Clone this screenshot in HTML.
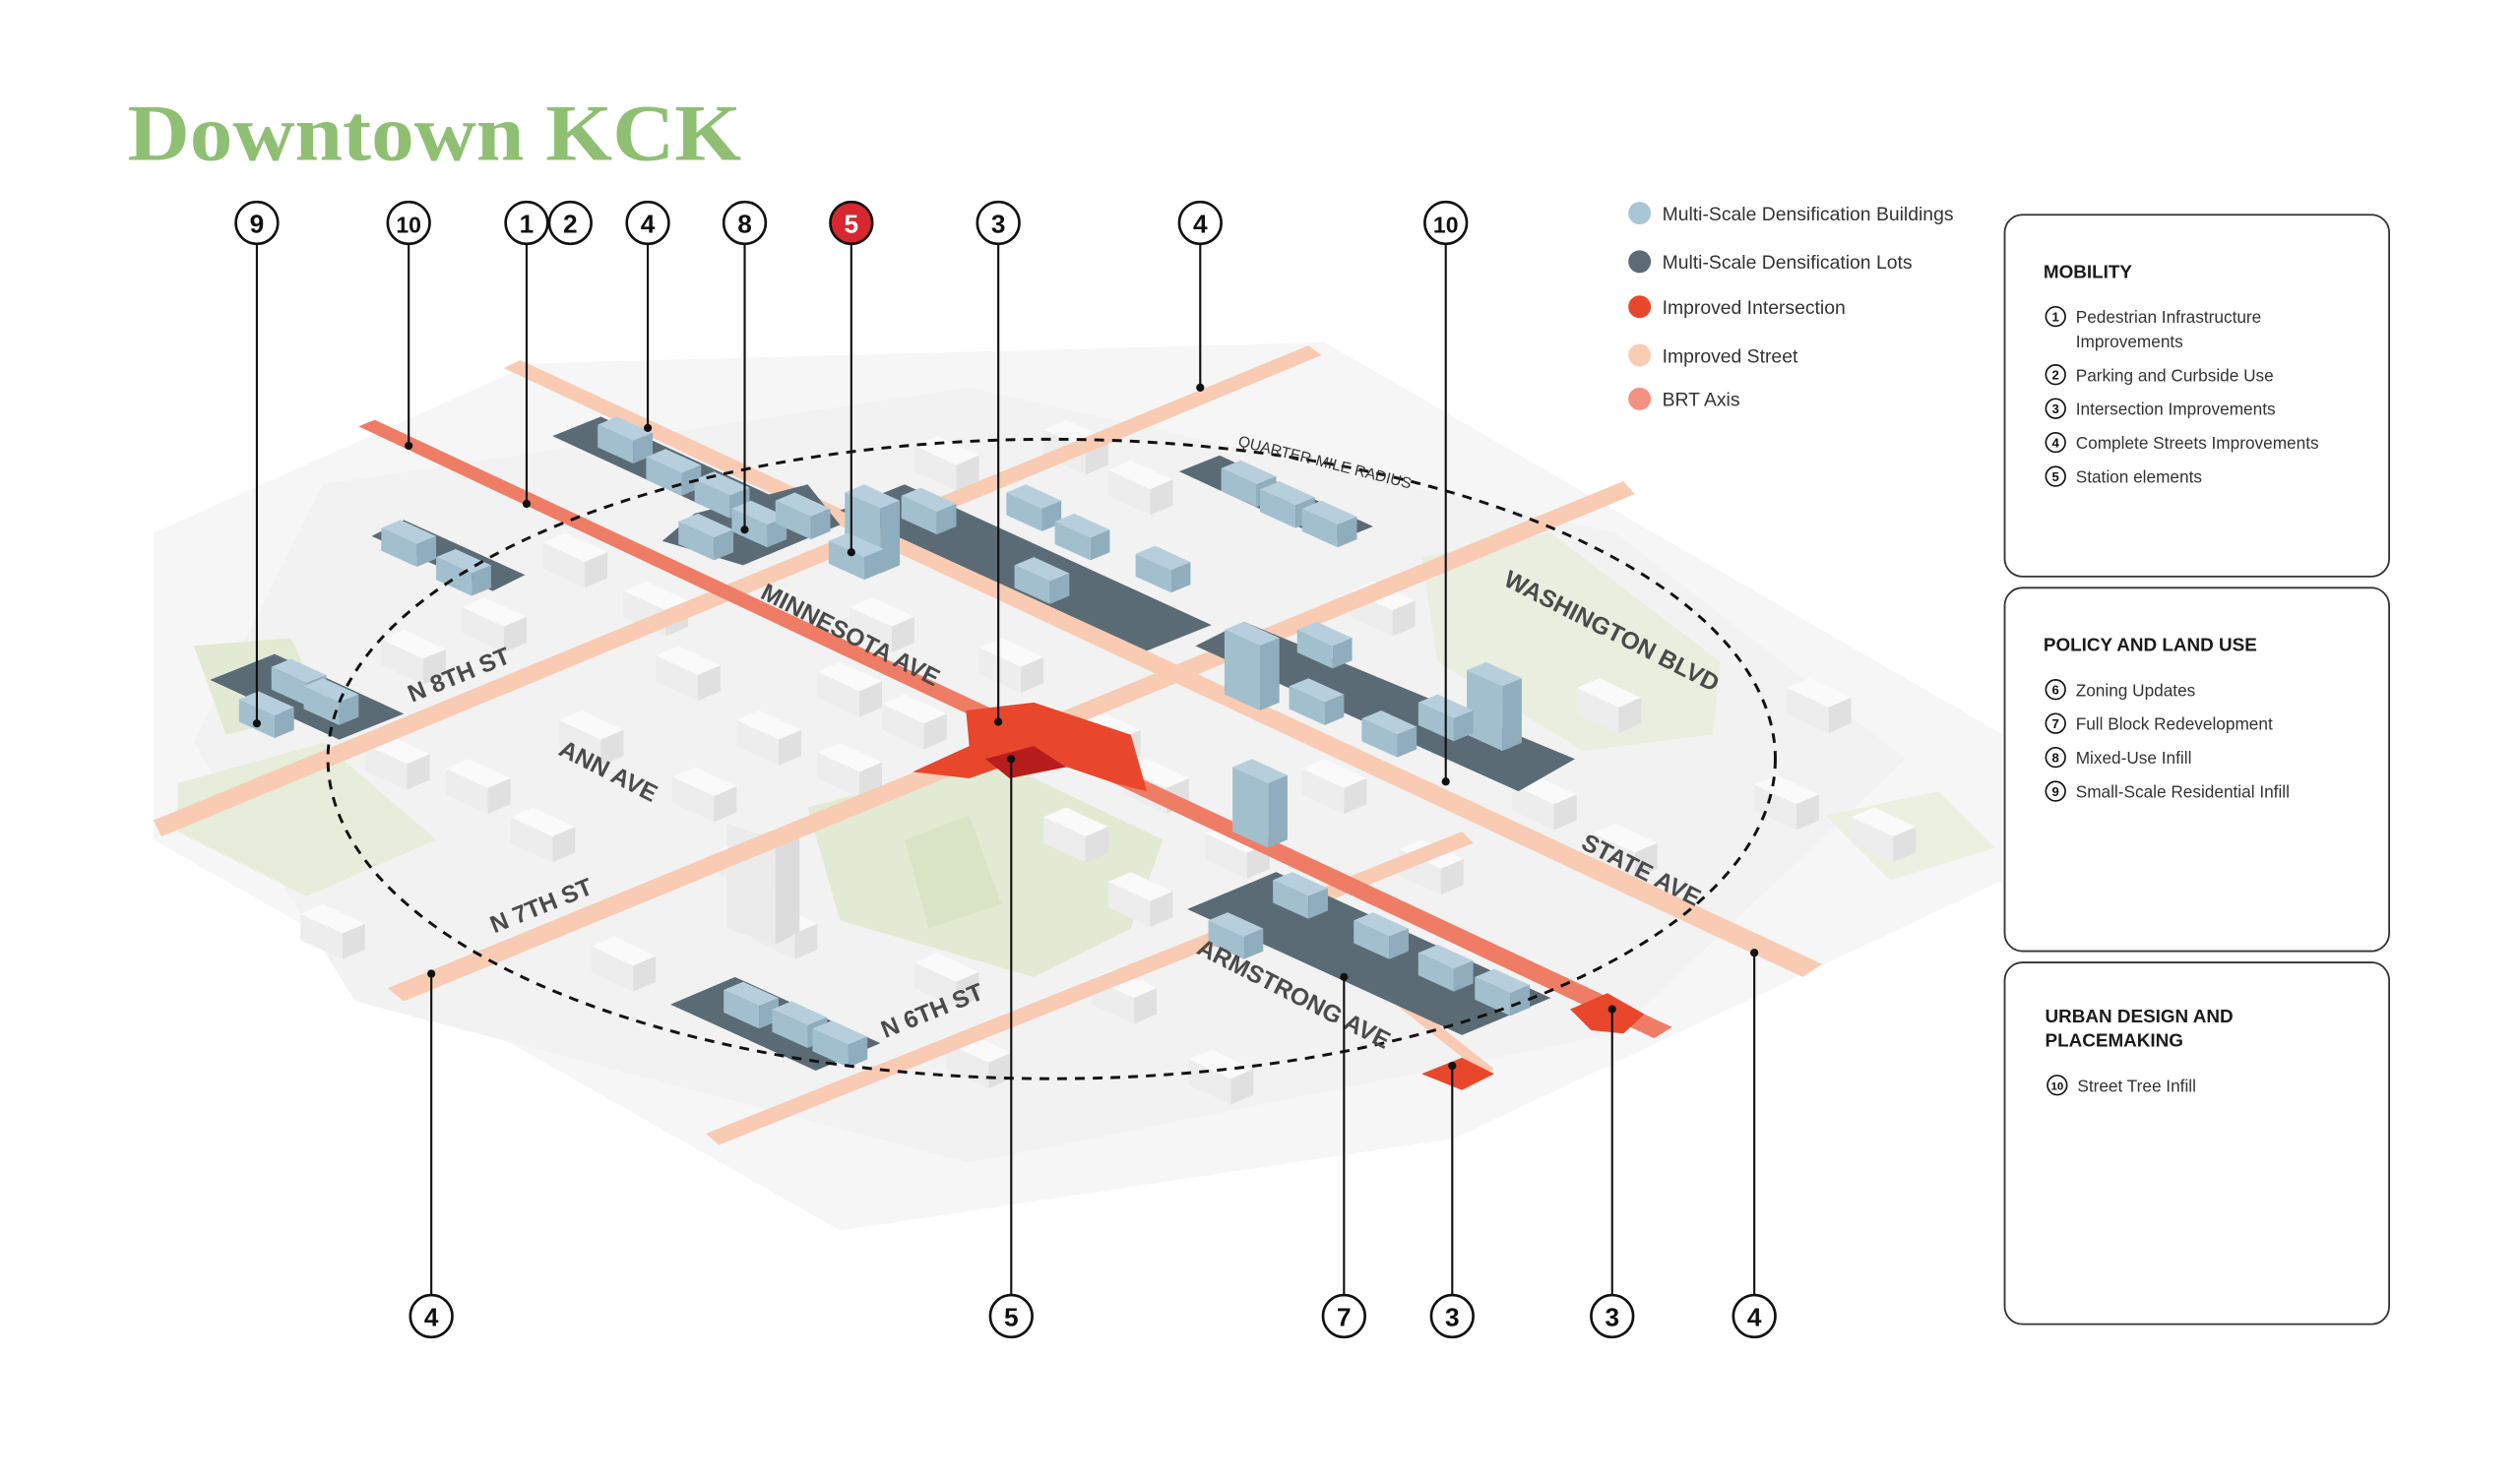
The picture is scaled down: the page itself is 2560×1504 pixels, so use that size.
<!DOCTYPE html>
<html><head><meta charset="utf-8"><style>
html,body{margin:0;padding:0;background:#fff}
svg{display:block}
text{font-family:"Liberation Sans",sans-serif}
</style></head><body>
<svg width="2560" height="1504" viewBox="0 0 1560 916.5" xmlns="http://www.w3.org/2000/svg">
<defs>
<g id="bb">
<polygon points="0,0 22,10 10,15 -12,5" fill="#b7cfdc"/>
<polygon points="-12,5 10,15 10,29 -12,19" fill="#a2bfce"/>
<polygon points="10,15 22,10 22,24 10,29" fill="#8fadbd"/>
</g>
<g id="bt">
<polygon points="0,0 22,10 10,15 -12,5" fill="#b7cfdc"/>
<polygon points="-12,5 10,15 10,55 -12,45" fill="#a2bfce"/>
<polygon points="10,15 22,10 22,50 10,55" fill="#8fadbd"/>
</g>
<g id="wb">
<polygon points="0,0 26,12 12,18 -14,6" fill="#fafafa"/>
<polygon points="-14,6 12,18 12,34 -14,22" fill="#ededed"/>
<polygon points="12,18 26,12 26,28 12,34" fill="#e0e0e0"/>
</g>
</defs>

<!-- map base -->
<polygon points="95,330 330,225 820,212 1240,455 1240,545 900,705 520,762 95,520" fill="#f6f6f6"/>
<polygon points="200,300 600,240 1000,330 1180,470 1000,640 600,720 220,620 120,460" fill="#f2f2f2"/>

<!-- parks -->
<polygon points="500,500 615,470 720,520 700,575 640,605 520,570" fill="#e2ead3"/>
<polygon points="110,485 200,460 270,520 190,555 110,515" fill="#e6edda"/>
<polygon points="880,345 960,330 1065,410 1060,455 980,465 890,410" fill="#e9eede"/>
<polygon points="120,400 180,395 200,440 140,455" fill="#e2ead3"/>
<polygon points="1130,505 1200,490 1235,525 1170,545" fill="#ebf0e0"/>
<polygon points="560,520 600,505 620,560 575,575" fill="#d9e4c7"/>

<!-- white buildings -->
<use href="#wb" x="300" y="370"/><use href="#wb" x="350" y="330"/><use href="#wb" x="420" y="400"/>
<use href="#wb" x="240" y="455"/><use href="#wb" x="290" y="470"/><use href="#wb" x="330" y="500"/>
<use href="#wb" x="430" y="475"/><use href="#wb" x="470" y="440"/><use href="#wb" x="520" y="410"/>
<use href="#wb" x="560" y="430"/><use href="#wb" x="680" y="440"/><use href="#wb" x="710" y="470"/>
<use href="#wb" x="460" y="520"/><use href="#wb" x="480" y="560"/><use href="#wb" x="380" y="580"/>
<use href="#wb" x="690" y="600"/><use href="#wb" x="660" y="500"/><use href="#wb" x="760" y="510"/>
<use href="#wb" x="820" y="470"/><use href="#wb" x="880" y="520"/><use href="#wb" x="950" y="480"/>
<use href="#wb" x="1000" y="510"/><use href="#wb" x="700" y="285"/><use href="#wb" x="660" y="260"/>
<use href="#wb" x="580" y="270"/><use href="#wb" x="990" y="420"/><use href="#wb" x="1100" y="480"/>
<use href="#wb" x="1160" y="500"/><use href="#wb" x="600" y="640"/><use href="#wb" x="750" y="650"/>
<use href="#wb" x="520" y="460"/><use href="#wb" x="360" y="440"/>
<use href="#wb" x="250" y="390"/><use href="#wb" x="400" y="360"/><use href="#wb" x="540" y="370"/>
<use href="#wb" x="620" y="395"/><use href="#wb" x="850" y="360"/><use href="#wb" x="1120" y="420"/>
<use href="#wb" x="200" y="560"/><use href="#wb" x="580" y="590"/><use href="#wb" x="700" y="540"/>
<polygon points="450,510 480,520 480,585 450,575" fill="#ebebeb"/><polygon points="480,520 495,512 495,577 480,585" fill="#dcdcdc"/>
<polygon points="730,300 750,292 762,298 762,330 740,330 730,325" fill="#f2f2f2"/>

<!-- streets -->
<polygon points="312,228 322,223 1128,597 1116,605" fill="#f8cbb2"/>
<polygon points="810,214 818,220 100,518 95,508" fill="#f8cbb2"/>
<polygon points="1005,298 1012,306 250,620 240,612" fill="#f8cbb2"/>
<polygon points="905,515 912,522 445,709 437,702" fill="#f8cbb2"/>
<polygon points="222,264 232,260 1035,636 1024,643" fill="#ef7d66"/>
<polygon points="780,555 786,552 925,662 918,665" fill="#f8cbb2"/>
<!-- intersections -->
<polygon points="598,440 640,435 700,455 710,490 690,485 640,468 600,482 565,478 600,462" fill="#e8472c"/>
<polygon points="610,470 640,462 660,475 625,482" fill="#b81d1d"/>
<polygon points="972,625 995,615 1018,628 1005,640 985,638" fill="#e8472c"/>
<polygon points="880,665 905,655 925,665 905,675" fill="#e8472c"/>

<!-- lots -->
<polygon points="372,258 482,309 452,321 342,270" fill="#5b6b76"/>
<polygon points="430,318 500,300 520,325 460,350 410,335" fill="#5b6b76"/>
<polygon points="250,322 325,356 305,366 230,332" fill="#5b6b76"/>
<polygon points="560,300 750,387 710,403 520,316" fill="#5b6b76"/>
<polygon points="755,282 850,326 825,336 730,292" fill="#5b6b76"/>
<polygon points="770,385 975,470 940,490 740,400" fill="#5b6b76"/>
<polygon points="170,405 250,442 210,458 130,421" fill="#5b6b76"/>
<polygon points="455,605 545,646 505,663 415,622" fill="#5b6b76"/>
<polygon points="790,540 960,618 905,641 735,563" fill="#5b6b76"/>

<!-- blue buildings -->
<use href="#bb" x="382" y="258"/><use href="#bb" x="412" y="278"/><use href="#bb" x="442" y="292"/>
<use href="#bb" x="432" y="318"/><use href="#bb" x="465" y="310"/><use href="#bb" x="492" y="305"/>
<use href="#bb" x="248" y="322"/><use href="#bb" x="282" y="340"/>
<use href="#bt" x="535" y="300"/><use href="#bb" x="525" y="330"/><use href="#bb" x="570" y="302"/>
<use href="#bb" x="635" y="300"/><use href="#bb" x="665" y="318"/><use href="#bb" x="640" y="345"/><use href="#bb" x="715" y="338"/>
<use href="#bb" x="768" y="285"/><use href="#bb" x="792" y="298"/><use href="#bb" x="818" y="310"/>
<use href="#bt" x="770" y="385"/><use href="#bb" x="815" y="385"/><use href="#bb" x="810" y="420"/><use href="#bb" x="855" y="440"/>
<use href="#bt" x="920" y="410"/><use href="#bb" x="890" y="430"/>
<use href="#bb" x="180" y="408"/><use href="#bb" x="160" y="428"/><use href="#bb" x="200" y="420"/>
<use href="#bb" x="460" y="608"/><use href="#bb" x="490" y="620"/><use href="#bb" x="515" y="632"/>
<use href="#bb" x="800" y="540"/><use href="#bb" x="760" y="565"/><use href="#bb" x="850" y="565"/><use href="#bb" x="890" y="585"/><use href="#bb" x="925" y="600"/>
<use href="#bt" x="775" y="470"/>

<!-- dashed ellipse -->
<ellipse cx="651" cy="470" rx="448" ry="198" fill="none" stroke="#111" stroke-width="1.8" stroke-dasharray="6,5"/>

<!-- street labels -->
<g fill="#4a4a4a" font-weight="bold" font-size="15">
<text transform="translate(470,370) rotate(27)">MINNESOTA AVE</text>
<text transform="translate(345,467) rotate(27)">ANN AVE</text>
<text transform="translate(930,362) rotate(27)">WASHINGTON BLVD</text>
<text transform="translate(978,525) rotate(27)">STATE AVE</text>
<text transform="translate(740,590) rotate(27)">ARMSTRONG AVE</text>
<text transform="translate(255,435) rotate(-22)">N 8TH ST</text>
<text transform="translate(306,578) rotate(-22)">N 7TH ST</text>
<text transform="translate(548,643) rotate(-22)">N 6TH ST</text>
</g>
<text transform="translate(766,276) rotate(14)" font-size="9.5" fill="#333">QUARTER-MILE RADIUS</text>

<!-- leader lines -->
<g stroke="#111" stroke-width="1.3">
<line x1="159" y1="151" x2="159" y2="448"/><line x1="253" y1="151" x2="253" y2="276"/>
<line x1="326" y1="151" x2="326" y2="312"/><line x1="401" y1="151" x2="401" y2="265"/>
<line x1="461" y1="151" x2="461" y2="328"/><line x1="527" y1="151" x2="527" y2="342"/>
<line x1="618" y1="151" x2="618" y2="447"/><line x1="743" y1="151" x2="743" y2="240"/>
<line x1="895" y1="151" x2="895" y2="484"/>
<line x1="267" y1="802" x2="267" y2="603"/><line x1="626" y1="802" x2="626" y2="470"/>
<line x1="832" y1="802" x2="832" y2="605"/><line x1="899" y1="802" x2="899" y2="660"/>
<line x1="998" y1="802" x2="998" y2="625"/><line x1="1086" y1="802" x2="1086" y2="590"/>
</g>
<g fill="#111">
<circle cx="159" cy="448" r="2.5"/><circle cx="253" cy="276" r="2.5"/><circle cx="326" cy="312" r="2.5"/>
<circle cx="401" cy="265" r="2.5"/><circle cx="461" cy="328" r="2.5"/><circle cx="527" cy="342" r="2.5"/>
<circle cx="618" cy="447" r="2.5"/><circle cx="743" cy="240" r="2.5"/><circle cx="895" cy="484" r="2.5"/>
<circle cx="267" cy="603" r="2.5"/><circle cx="626" cy="470" r="2.5"/><circle cx="832" cy="605" r="2.5"/>
<circle cx="899" cy="660" r="2.5"/><circle cx="998" cy="625" r="2.5"/><circle cx="1086" cy="590" r="2.5"/>
</g>

<!-- callout circles -->
<g fill="#fff" stroke="#111" stroke-width="1.6">
<circle cx="159" cy="138" r="13"/><circle cx="253" cy="138" r="13"/><circle cx="326" cy="138" r="13"/>
<circle cx="353" cy="138" r="13"/><circle cx="401" cy="138" r="13"/><circle cx="461" cy="138" r="13"/>
<circle cx="527" cy="138" r="13" fill="#d7282f"/><circle cx="618" cy="138" r="13"/><circle cx="743" cy="138" r="13"/>
<circle cx="895" cy="138" r="13"/>
<circle cx="267" cy="815" r="13"/><circle cx="626" cy="815" r="13"/><circle cx="832" cy="815" r="13"/>
<circle cx="899" cy="815" r="13"/><circle cx="998" cy="815" r="13"/><circle cx="1086" cy="815" r="13"/>
</g>
<g font-size="16" font-weight="bold" text-anchor="middle" fill="#111">
<text x="159" y="144">9</text><text x="253" y="144" font-size="14">10</text><text x="326" y="144">1</text>
<text x="353" y="144">2</text><text x="401" y="144">4</text><text x="461" y="144">8</text>
<text x="527" y="144" fill="#fff">5</text><text x="618" y="144">3</text><text x="743" y="144">4</text>
<text x="895" y="144" font-size="14">10</text>
<text x="267" y="821">4</text><text x="626" y="821">5</text><text x="832" y="821">7</text>
<text x="899" y="821">3</text><text x="998" y="821">3</text><text x="1086" y="821">4</text>
</g>

<!-- title -->
<text x="79" y="99" style="font-family:'Liberation Serif',serif;font-weight:bold" font-size="50" fill="#8fbf73" textLength="380" lengthAdjust="spacingAndGlyphs">Downtown KCK</text>

<!-- legend -->
<circle cx="1015" cy="132" r="7" fill="#a9c6d6"/><text x="1029" y="136.5" font-size="11.8" fill="#333">Multi-Scale Densification Buildings</text>
<circle cx="1015" cy="162" r="7" fill="#5c6b76"/><text x="1029" y="166.5" font-size="11.8" fill="#333">Multi-Scale Densification Lots</text>
<circle cx="1015" cy="190" r="7" fill="#e8472c"/><text x="1029" y="194.5" font-size="11.8" fill="#333">Improved Intersection</text>
<circle cx="1015" cy="220" r="7" fill="#f9cdb4"/><text x="1029" y="224.5" font-size="11.8" fill="#333">Improved Street</text>
<circle cx="1015" cy="247" r="7" fill="#f29282"/><text x="1029" y="251.5" font-size="11.8" fill="#333">BRT Axis</text>

<!-- side boxes -->
<g fill="none" stroke="#333" stroke-width="1.1">
<rect x="1241" y="133" width="238" height="224" rx="11"/>
<rect x="1241" y="364" width="238" height="225" rx="11"/>
<rect x="1241" y="596" width="238" height="224" rx="11"/>
</g>
<g font-size="11.5" font-weight="bold" fill="#1a1a1a">
<text x="1265" y="172">MOBILITY</text>
<text x="1265" y="403">POLICY AND LAND USE</text>
<text x="1266" y="633">URBAN DESIGN AND</text>
<text x="1266" y="648">PLACEMAKING</text>
</g>
<g fill="#fff" stroke="#111" stroke-width="1">
<circle cx="1272.5" cy="196" r="6"/><circle cx="1272.5" cy="232" r="6"/><circle cx="1272.5" cy="253" r="6"/>
<circle cx="1272.5" cy="274" r="6"/><circle cx="1272.5" cy="295" r="6"/>
<circle cx="1272.5" cy="427" r="6"/><circle cx="1272.5" cy="448" r="6"/><circle cx="1272.5" cy="469" r="6"/>
<circle cx="1272.5" cy="490" r="6"/><circle cx="1273.5" cy="672" r="6"/>
</g>
<g font-size="8" font-weight="bold" text-anchor="middle" fill="#111">
<text x="1272.5" y="199">1</text><text x="1272.5" y="235">2</text><text x="1272.5" y="256">3</text>
<text x="1272.5" y="277">4</text><text x="1272.5" y="298">5</text>
<text x="1272.5" y="430">6</text><text x="1272.5" y="451">7</text><text x="1272.5" y="472">8</text>
<text x="1272.5" y="493">9</text><text x="1273.5" y="675" font-size="7">10</text>
</g>
<g font-size="10.5" fill="#333">
<text x="1285" y="200">Pedestrian Infrastructure</text>
<text x="1285" y="215">Improvements</text>
<text x="1285" y="236">Parking and Curbside Use</text>
<text x="1285" y="257">Intersection Improvements</text>
<text x="1285" y="278">Complete Streets Improvements</text>
<text x="1285" y="299">Station elements</text>
<text x="1285" y="431">Zoning Updates</text>
<text x="1285" y="452">Full Block Redevelopment</text>
<text x="1285" y="473">Mixed-Use Infill</text>
<text x="1285" y="494">Small-Scale Residential Infill</text>
<text x="1286" y="676">Street Tree Infill</text>
</g>
</svg>
</body></html>
